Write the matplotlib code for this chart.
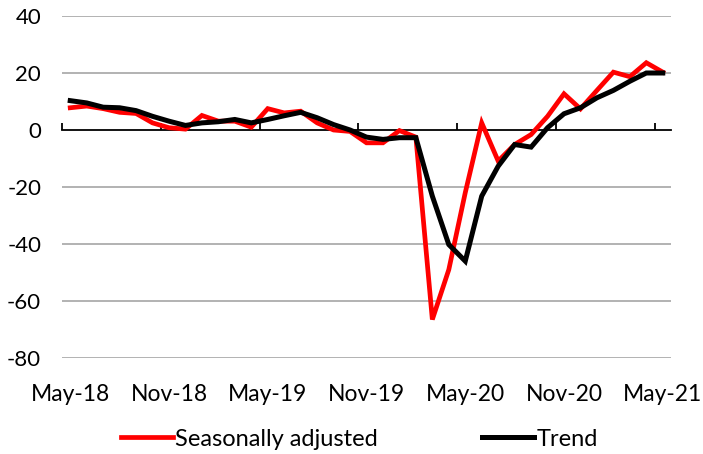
import matplotlib
matplotlib.use("Agg")
import matplotlib.pyplot as plt
import numpy as np

plt.rcParams['font.family'] = ['Lato', 'DejaVu Sans']

# Monthly categories May-18 .. May-21 (37 months)
months = ["May-18", "Jun-18", "Jul-18", "Aug-18", "Sep-18", "Oct-18", "Nov-18", "Dec-18",
          "Jan-19", "Feb-19", "Mar-19", "Apr-19", "May-19", "Jun-19", "Jul-19", "Aug-19",
          "Sep-19", "Oct-19", "Nov-19", "Dec-19", "Jan-20", "Feb-20", "Mar-20", "Apr-20",
          "May-20", "Jun-20", "Jul-20", "Aug-20", "Sep-20", "Oct-20", "Nov-20", "Dec-20",
          "Jan-21", "Feb-21", "Mar-21", "Apr-21", "May-21"]

seasonally_adjusted = [7.8, 8.4, 7.5, 6.2, 5.8, 2.5, 0.8, 0.3, 5.1, 3.1, 3.1, 1.0,
                       7.5, 6.0, 6.6, 2.5, 0.0, -0.5, -4.5, -4.5, -0.2, -2.5, -66.5, -49.0,
                       -22.0, 2.5, -10.9, -5.1, -1.6, 4.8, 12.7, 7.4, 13.9, 20.3, 18.7, 23.6, 20.3]

trend = [10.3, 9.5, 8.0, 7.8, 6.8, 4.8, 3.1, 1.6, 2.5, 2.9, 3.7, 2.5,
         3.7, 5.0, 6.2, 4.3, 1.9, 0.0, -2.5, -3.3, -2.7, -2.7, -23.2, -40.2,
         -46.0, -23.2, -12.7, -5.1, -6.0, 0.8, 5.7, 7.8, 11.3, 13.9, 17.1, 20.0, 20.0]

tick_labels = ["May-18", "Nov-18", "May-19", "Nov-19", "May-20", "Nov-20", "May-21"]
y_ticks = [-80, -60, -40, -20, 0, 20, 40]

fig = plt.figure(figsize=(7.03, 4.54), dpi=100)
ax = fig.add_axes([62/703, 1-358/454, (671-62)/703, (358-16)/454])

x = np.arange(len(months))
ax.plot(x, seasonally_adjusted, color='#ff0000', lw=3.4, solid_joinstyle='miter',
        label='Seasonally adjusted', zorder=3)
ax.plot(x, trend, color='#000000', lw=3.6, solid_joinstyle='miter',
        label='Trend', zorder=4)

ax.set_xlim(-0.5, len(months) - 0.5)
ax.set_ylim(-80, 40)

# gridlines
for yv in y_ticks:
    if yv != 0:
        ax.axhline(yv, color='#a6a6a6', lw=1.2, zorder=1)

ax.set_yticks(y_ticks)
ax.set_yticklabels([str(v) for v in y_ticks])
ax.tick_params(axis='y', length=0, pad=15, labelsize=16)

for s in ['top', 'right', 'left']:
    ax.spines[s].set_visible(False)
ax.spines['bottom'].set_position(('data', 0))
ax.spines['bottom'].set_linewidth(1.3)
ax.spines['bottom'].set_zorder(2)

# boundary ticks on the zero axis
idx_labels = [months.index(t) for t in tick_labels]
ax.set_xticks([i - 0.5 for i in idx_labels])
ax.set_xticklabels([])
ax.tick_params(axis='x', direction='in', length=5, width=1.3)

# labels at the bottom
sec = ax.secondary_xaxis(0)
sec.set_xticks(idx_labels)
sec.set_xticklabels(tick_labels)
sec.tick_params(length=0, pad=19, labelsize=16.5)
sec.spines['bottom'].set_visible(False)

fig.legend(loc='center', bbox_to_anchor=(359.5/703, 1-439/454), ncol=2, frameon=False,
           fontsize=17, handlelength=2.2, handletextpad=0.1, columnspacing=4.4)

fig.savefig('out.png', dpi=100)
